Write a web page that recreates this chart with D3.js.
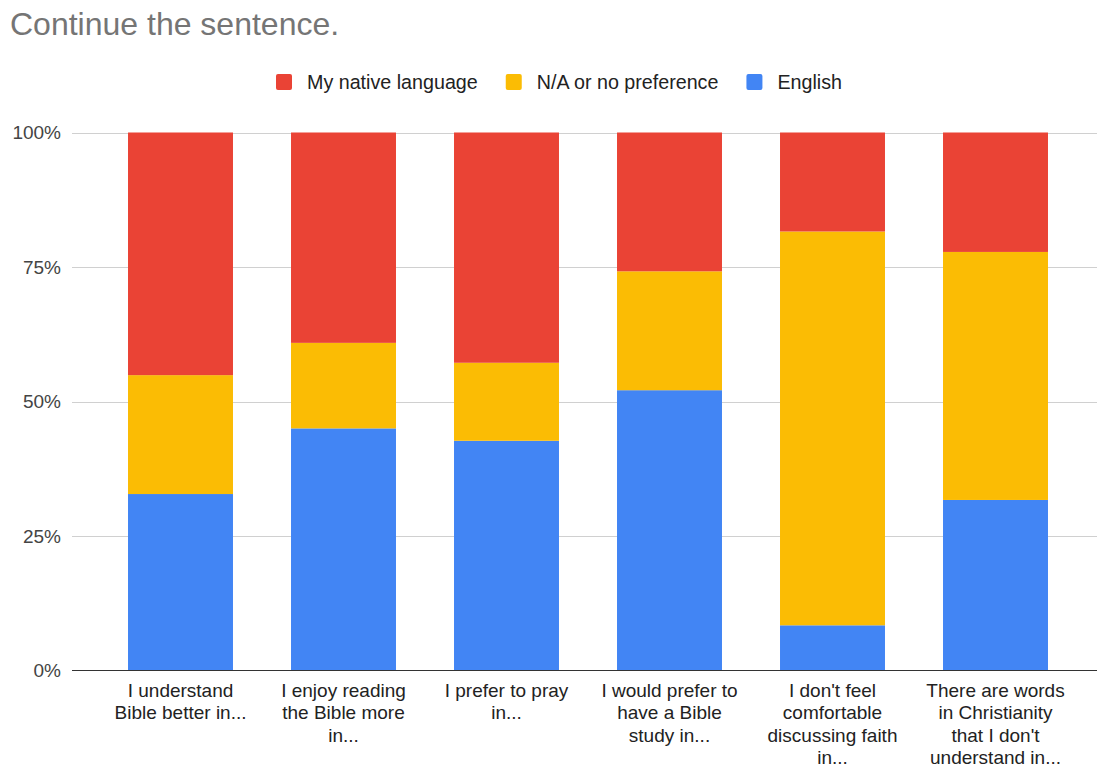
<!DOCTYPE html>
<html>
<head>
<meta charset="utf-8">
<script src="https://cdn.jsdelivr.net/npm/d3@7"></script>
<style>
  html, body { margin: 0; padding: 0; background: #fff; }
  svg { display: block; font-family: "Liberation Sans", Arial, sans-serif; }
</style>
</head>
<body>
<svg id="chart" width="1097" height="767"></svg>
<script>
const title = "Continue the sentence.";
const categories = [
  ["I understand", "Bible better in..."],
  ["I enjoy reading", "the Bible more", "in..."],
  ["I prefer to pray", "in..."],
  ["I would prefer to", "have a Bible", "study in..."],
  ["I don't feel", "comfortable", "discussing faith", "in..."],
  ["There are words", "in Christianity", "that I don't", "understand in..."]
];
const seriesNames = ["English", "N/A or no preference", "My native language"];
const english = [32.8, 45.0, 42.7, 52.1, 8.4, 31.7];
const noPref = [22.1, 15.9, 14.5, 22.1, 73.2, 46.1];
const native = [45.1, 39.1, 42.8, 25.8, 18.4, 22.2];
const colors = { "English": "#4285f4", "N/A or no preference": "#fbbc04", "My native language": "#ea4335" };
const legendOrder = ["My native language", "N/A or no preference", "English"];
const yTicks = [0, 25, 50, 75, 100];

const svg = d3.select("#chart");
const W = 1097;

const rows = categories.map((c, i) => ({
  idx: i,
  "English": english[i],
  "N/A or no preference": noPref[i],
  "My native language": native[i]
}));
rows.forEach(r => {
  const t = seriesNames.reduce((s, k) => s + r[k], 0);
  seriesNames.forEach(k => r[k] = r[k] / t * 100);
});

const x = d3.scaleBand().domain(d3.range(categories.length))
  .range([99, 1077]).paddingInner(0.356).paddingOuter(0.178);
const y = d3.scaleLinear().domain([0, 100]).range([670.5, 132.5]);

svg.append("text").attr("x", 10).attr("y", 35)
  .attr("fill", "#757575").attr("font-size", 32).text(title);

svg.append("g").selectAll("line").data(yTicks.filter(d => d > 0)).join("line")
  .attr("x1", 72).attr("x2", W)
  .attr("y1", d => Math.round(y(d)) + 0.5).attr("y2", d => Math.round(y(d)) + 0.5)
  .attr("stroke", "#d0d0d0").attr("stroke-width", 1);

svg.append("g").selectAll("text").data(yTicks).join("text")
  .attr("x", 61).attr("y", d => y(d)).attr("dy", "0.35em")
  .attr("text-anchor", "end").attr("fill", "#444").attr("font-size", 19)
  .text(d => d + "%");

const stack = d3.stack().keys(seriesNames);
const stacked = stack(rows);
svg.append("g").selectAll("g").data(stacked).join("g")
  .attr("fill", d => colors[d.key])
  .selectAll("rect").data(d => d).join("rect")
  .attr("x", d => x(d.data.idx))
  .attr("width", x.bandwidth())
  .attr("y", d => y(d[1]))
  .attr("height", d => y(d[0]) - y(d[1]));

svg.append("line").attr("x1", 72).attr("x2", W)
  .attr("y1", 670.5).attr("y2", 670.5)
  .attr("stroke", "#333").attr("stroke-width", 1);

const cl = svg.append("g").selectAll("text").data(categories).join("text")
  .attr("text-anchor", "middle").attr("fill", "#222").attr("font-size", 19)
  .attr("transform", (d, i) => `translate(${x(i) + x.bandwidth() / 2},697)`);
cl.selectAll("tspan").data(d => d).join("tspan")
  .attr("x", 0).attr("y", (d, j) => j * 22.3).text(d => d);

const lg = svg.append("g");
let lx = 276;
legendOrder.forEach(name => {
  lg.append("rect").attr("x", lx).attr("y", 74).attr("width", 16).attr("height", 16)
    .attr("rx", 2).attr("fill", colors[name]);
  const t = lg.append("text").attr("x", lx + 31).attr("y", 82).attr("dy", "0.35em")
    .attr("fill", "#222").attr("font-size", 19.7).text(name);
  lx += 31 + t.node().getComputedTextLength() + 28;
});
</script>
</body>
</html>
